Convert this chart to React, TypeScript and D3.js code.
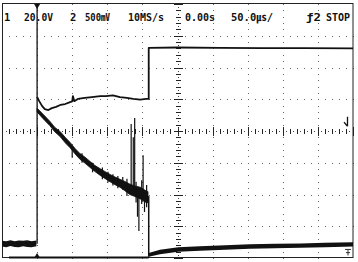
import React from "react";
import * as d3 from "d3";

// ---- Scope settings (50 µs/div, 10 div wide, 8 div tall, trigger ref at centre) ----
const timeDomain: [number, number] = [-250, 250]; // µs
const divDomain: [number, number] = [-4, 4]; // vertical divisions from centre
const headerTexts = ["1", "20.0V", "2", "500㎷", "10MS/s", "0.00s", "50.0㎲/", "ƒ2", "STOP"];

// Channel 1: pre-trigger level band [t µs, low div, high div]
const ch1Pre: number[][] = [
  [-250, -3.64, -3.46], [-244, -3.66, -3.47], [-238, -3.62, -3.44], [-232, -3.65, -3.47],
  [-226, -3.66, -3.45], [-220, -3.63, -3.46], [-214, -3.65, -3.44], [-208, -3.66, -3.47], [-201, -3.63, -3.45],
];
// Channel 1: decaying section band
const ch1Decay: number[][] = [
  [-200, 0.60, 0.72], [-196, 0.50, 0.63], [-189, 0.33, 0.47], [-182, 0.17, 0.31],
  [-175, -0.02, 0.12], [-167, -0.18, -0.02], [-160, -0.37, -0.20], [-153, -0.53, -0.36],
  [-146, -0.72, -0.55], [-139, -0.89, -0.71], [-132, -1.01, -0.82], [-125, -1.14, -0.95],
  [-118, -1.27, -1.08], [-110, -1.40, -1.19], [-103, -1.50, -1.28], [-96, -1.60, -1.37],
  [-89, -1.69, -1.45], [-82, -1.77, -1.52], [-75, -1.88, -1.59], [-68, -2.00, -1.67],
  [-61, -2.06, -1.73], [-53, -2.14, -1.77], [-46, -2.24, -1.87], [-42, -2.26, -1.91],
];
// Channel 1: glitch / noise spikes [t µs, from div, to div]
const ch1Spikes: number[][] = [
  [-150, -0.84, -0.5], [-136, -1.0, -0.7], [-121, -1.3, -1.0], [-107, -1.52, -1.15],
  [-99, -1.62, -1.28], [-92, -1.72, -1.36], [-85, -1.8, -1.42], [-78, -1.85, -1.45],
  [-72, -2.05, -1.5], [-66, -1.88, 0.22], [-63, -1.9, -0.2], [-61, -1.92, 0.41],
  [-59, -2.25, -1.6], [-57, -2.7, -1.85], [-55, -3.15, -1.9], [-51, -2.3, -1.55],
  [-49, -1.95, -0.76], [-47, -2.55, -1.95], [-44, -2.4, -1.7],
];
// Channel 1: after switch-off, band
const ch1Post: number[][] = [
  [-41, -3.96, -3.84], [-25, -3.88, -3.74], [1, -3.80, -3.66], [32, -3.77, -3.63],
  [68, -3.74, -3.60], [103, -3.71, -3.57], [139, -3.69, -3.55], [175, -3.68, -3.54],
  [210, -3.66, -3.52], [250, -3.64, -3.50],
];
// Channel 2 trace [t µs, div]
const ch2Trace: number[][] = [
  [-200, 1.07], [-197, 0.94], [-193, 0.79], [-189, 0.69], [-184, 0.66], [-179, 0.72],
  [-173, 0.76], [-167, 0.82], [-160, 0.85], [-153, 0.91], [-150, 0.93], [-149, 1.10],
  [-147, 0.94], [-142, 1.01], [-132, 1.04], [-122, 1.07], [-110, 1.10], [-102, 1.10],
  [-92, 1.12], [-82, 1.07], [-72, 1.04], [-63, 1.01], [-53, 0.99], [-45, 1.01], [-41, 1.01],
  [-41, 2.62], [0, 2.63], [60, 2.62], [120, 2.61], [180, 2.61], [250, 2.60],
];

const W = 358;
const H = 262;

export default function App() {
  const x = d3.scaleLinear().domain(timeDomain).range([2, 353]);
  const y = d3.scaleLinear().domain(divDomain).range([258, 4]);
  const band = d3.area<number[]>().x((d) => x(d[0])).y0((d) => y(d[1])).y1((d) => y(d[2]));
  const line = d3.line<number[]>().x((d) => x(d[0])).y((d) => y(d[1]));

  const majorT = d3.range(-250, 251, 50);
  const minorT = d3.range(-250, 251, 10);
  const majorV = d3.range(-4, 4.01, 1);
  const minorV = d3.range(-4, 4.001, 0.2);

  const dots: JSX.Element[] = [];
  majorT.filter((t) => t !== 0 && Math.abs(t) !== 250).forEach((t) => {
    minorV.forEach((v, i) => {
      dots.push(<rect key={`v${t}_${i}`} x={Math.round(x(t))} y={Math.round(y(v))} width={1} height={1} fill="#666" />);
    });
  });
  majorV.filter((v) => v !== 0 && Math.abs(v) !== 4).forEach((v) => {
    minorT.forEach((t, i) => {
      dots.push(<rect key={`h${v}_${i}`} x={Math.round(x(t))} y={Math.round(y(v))} width={1} height={1} fill="#666" />);
    });
  });

  const cx = Math.round(x(0));
  const cy = Math.round(y(0));
  const axisMarks: JSX.Element[] = [];
  minorT.forEach((t, i) => {
    const major = t % 50 === 0;
    const px = Math.round(x(t));
    axisMarks.push(<line key={`ht${i}`} x1={px + 0.5} x2={px + 0.5} y1={cy - (major ? 4 : 2)} y2={cy + (major ? 5 : 3)} stroke="#222" strokeWidth={1} />);
    if (i < minorT.length - 1) {
      axisMarks.push(<rect key={`hd${i}`} x={Math.round(x(t + 5))} y={cy} width={1} height={1} fill="#444" />);
    }
  });
  minorV.forEach((v, i) => {
    const major = Math.abs(v - Math.round(v)) < 1e-6;
    const py = Math.round(y(v));
    axisMarks.push(<line key={`vt${i}`} y1={py + 0.5} y2={py + 0.5} x1={cx - (major ? 4 : 2)} x2={cx + (major ? 5 : 3)} stroke="#222" strokeWidth={1} />);
    if (i < minorV.length - 1) {
      axisMarks.push(<rect key={`vd${i}`} y={Math.round(y(v + 0.1))} x={cx} width={1} height={1} fill="#444" />);
    }
  });

  const headerX = [4, 24, 70, 85, 128, 185, 231, 306, 326];
  const headerW = [0, 29, 0, 25, 36, 30, 42, 15, 24];

  const trigX = x(-200);

  return (
    <svg width={W} height={H} style={{ position: "absolute", left: 0, top: 0, background: "#fff" }}>
      <rect width={W} height={H} fill="#fff" />
      {dots}
      {axisMarks}
      {/* frame */}
      <rect x={2.5} y={3.5} width={350.5} height={254} fill="none" stroke="#222" strokeWidth={1} />
      <line x1={x(-240)} x2={x(-41)} y1={257.5} y2={257.5} stroke="#111" strokeWidth={2} />
      {/* trigger position line and markers */}
      <line x1={trigX} x2={trigX} y1={y(4)} y2={y(-3.55)} stroke="#111" strokeWidth={1.3} />
      <path d={`M${trigX - 3},${y(4)} L${trigX + 3},${y(4)} L${trigX},${y(4) + 5} Z`} fill="#111" />
      <path d={`M${trigX - 3},${y(-4)} L${trigX + 3},${y(-4)} L${trigX},${y(-4) - 5} Z`} fill="#111" />
      {/* channel 1 */}
      <path d={band(ch1Pre) || ""} fill="#111" />
      <path d={band(ch1Decay) || ""} fill="#111" stroke="#111" strokeWidth={0.8} />
      {ch1Spikes.map((s, i) => (
        <line key={`sp${i}`} x1={x(s[0])} x2={x(s[0])} y1={y(s[1])} y2={y(s[2])} stroke="#111" strokeWidth={1.2} />
      ))}
      <line x1={x(-41)} x2={x(-41)} y1={y(-2.05)} y2={y(-3.96)} stroke="#111" strokeWidth={1.5} />
      <path d={band(ch1Post) || ""} fill="#111" />
      {/* channel 2 */}
      <path d={line(ch2Trace) || ""} fill="none" stroke="#111" strokeWidth={1.8} strokeLinejoin="round" />
      {/* reference markers at right */}
      <path d={`M347.5,${y(0.45)} V${y(0.15)} M344,${y(0.28)} L347.5,${y(0.15)}`} stroke="#111" strokeWidth={1.3} fill="none" />
      <path d={`M345,${y(-3.73)} H351 M348,${y(-3.73)} V${y(-3.92)} M346,${y(-3.83)} H350`} stroke="#333" strokeWidth={1} fill="none" />
      {/* header */}
      {headerTexts.map((t, i) => (
        <text
          key={`ht${i}`}
          x={headerX[i]}
          y={21}
          fontFamily="'DejaVu Sans Mono', 'Noto Sans CJK JP', monospace"
          fontWeight="bold"
          fontSize={10.5}
          fill="#111"
          {...(headerW[i] > 0 ? { textLength: headerW[i], lengthAdjust: "spacingAndGlyphs" } : {})}
        >
          {t}
        </text>
      ))}
    </svg>
  );
}
